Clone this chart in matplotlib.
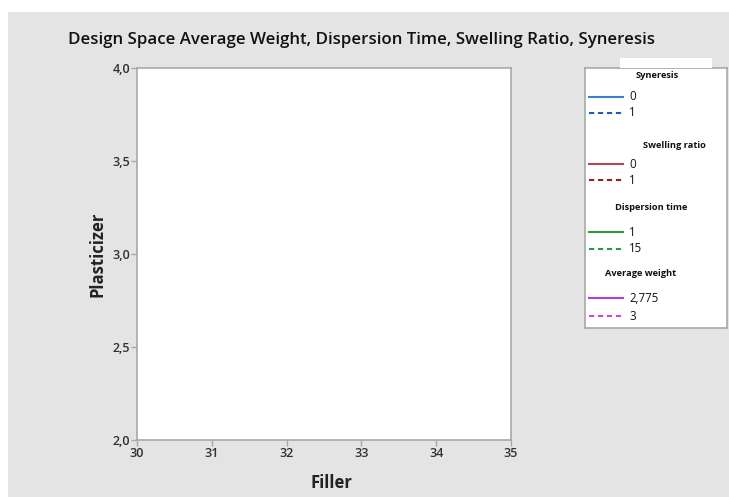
import matplotlib
matplotlib.use("Agg")
import matplotlib.pyplot as plt
from matplotlib.patches import Rectangle
from matplotlib.ticker import FuncFormatter

plt.rcParams['font.family'] = ['Open Sans', 'DejaVu Sans']

# axis ranges and ticks
filler_ticks = [30, 31, 32, 33, 34, 35]
plasticizer_ticks = [2.0, 2.5, 3.0, 3.5, 4.0]

# contour legend: response name, contour levels, colours (solid / dashed)
responses = ["Syneresis", "Swelling ratio", "Dispersion time", "Average weight"]
levels = [["0", "1"], ["0", "1"], ["1", "15"], ["2,775", "3"]]
colors = [("#3f7fcf", "#1f5cb8"), ("#b04a4a", "#9a1c1c"),
          ("#2f9a3a", "#2f9a3a"), ("#b23fd6", "#c04fe0")]

W, H = 729, 497
fig = plt.figure(figsize=(W / 100, H / 100), dpi=100)
fig.patch.set_facecolor("white")

# grey panel background
fig.add_artist(Rectangle((8 / W, 0), 1, (H - 12) / H, transform=fig.transFigure,
                         facecolor="#e4e4e4", edgecolor="none", zorder=0))

ax = fig.add_axes([137 / W, (H - 440) / H, (511 - 137) / W, (440 - 68) / H])
ax.set_facecolor("white")
ax.set_xlim(filler_ticks[0], filler_ticks[-1])
ax.set_ylim(plasticizer_ticks[0], plasticizer_ticks[-1])
ax.set_xticks(filler_ticks)
ax.set_yticks(plasticizer_ticks)
ax.yaxis.set_major_formatter(FuncFormatter(lambda v, p: f"{v:.1f}".replace(".", ",")))
for s in ax.spines.values():
    s.set_color("#a8a8a8")
    s.set_linewidth(1.2)
ax.tick_params(direction="out", length=4, width=1, color="#a8a8a8",
               labelsize=9, labelcolor="#303030", pad=1)
for lbl in ax.get_xticklabels() + ax.get_yticklabels():
    lbl.set_fontweight("semibold")

fig.text(362 / W, 1 - 40 / H,
         "Design Space Average Weight, Dispersion Time, Swelling Ratio, Syneresis",
         ha="center", va="center", fontsize=12.2, fontweight="semibold", color="#111111")
fig.text(331 / W, 1 - 483 / H, "Filler", ha="center", va="center",
         fontsize=12, fontweight="bold", color="#222222")
fig.text(97 / W, 1 - 254 / H, "Plasticizer", ha="center", va="center", rotation=90,
         fontsize=12, fontweight="bold", color="#222222")

# legend box drawn in pixel units
fig.add_artist(Rectangle((620 / W, 1 - 68 / H), 92 / W, 10 / H, transform=fig.transFigure,
                         facecolor="white", edgecolor="none", zorder=1))
lg = fig.add_axes([585 / W, 1 - 328 / H, (727 - 585) / W, (328 - 68) / H])
lg.set_xlim(585, 727)
lg.set_ylim(328, 68)
lg.set_xticks([])
lg.set_yticks([])
lg.set_facecolor("white")
for s in lg.spines.values():
    s.set_color("#a8a8a8")
    s.set_linewidth(1.2)

title_pos = [(657, 75), (674, 145), (651, 207), (641, 273)]
row_y = [(97, 113), (164, 180), (232, 249), (298, 316)]
for name, (tx, ty), lev, col, ys in zip(responses, title_pos, levels, colors, row_y):
    lg.text(tx, ty, name, ha="center", va="center", fontsize=6.7,
            fontweight="bold", color="#111111")
    for k, (lab, c, y) in enumerate(zip(lev, col, ys)):
        lg.plot([589, 623], [y, y], color=c, lw=1.5,
                ls="-" if k == 0 else (0, (2.5, 1.8)))
        lg.text(629, y, lab, ha="left", va="center", fontsize=8.3, color="#111111")

fig.savefig("out.png", dpi=100)
